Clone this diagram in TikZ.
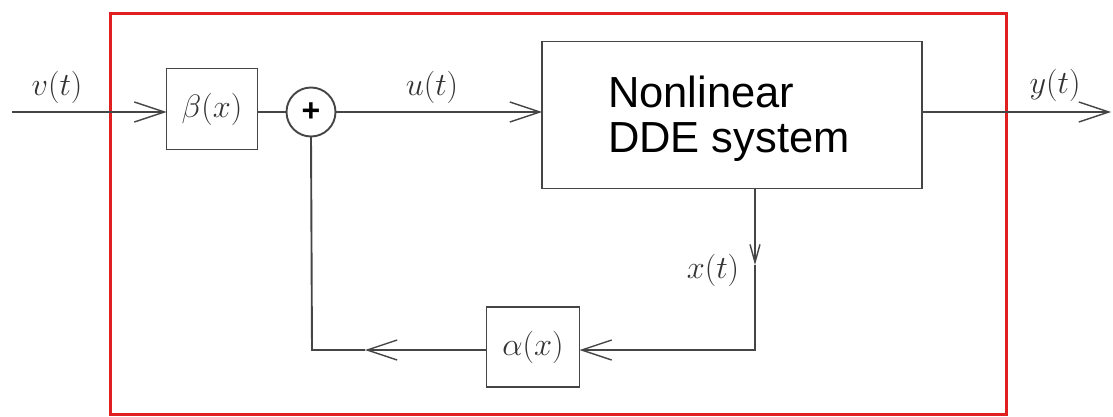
\documentclass[tikz,border=0pt]{standalone}
\usepackage{fontspec}
\newfontfamily\arialfont{Liberation Sans}
\usetikzlibrary{arrows.meta}
\definecolor{linegray}{HTML}{454545}
\definecolor{framered}{HTML}{E02020}
\begin{document}
\begin{tikzpicture}[x=1pt,y=-1pt,
  every node/.style={inner sep=0pt,outer sep=0pt},
  blockbox/.style={draw=linegray,line width=1.9pt,fill=white},
  conn/.style={draw=linegray,line width=1.9pt},
  bigarrow/.style={-{Straight Barb[length=30pt,width=20pt,line width=1.4pt]}},
  smallarrow/.style={-{Straight Barb[length=18pt,width=10pt,line width=1.4pt]}},
  mlabel/.style={font=\Huge, text=black!80, scale=1.3, transform shape}]
\useasboundingbox (0,0) rectangle (1113,417);
% frame
\draw[framered,line width=3pt] (110,14) rectangle (1006,414);
% blocks
\node[blockbox,minimum width=91pt,minimum height=81pt] (beta) at (212,109) {};
\node[mlabel] at (beta) {$\beta(x)$};
\node[blockbox,circle,minimum size=49pt] (sum) at (311,112) {};
\node[font=\arialfont\bfseries\fontsize{32}{32}\selectfont] at (sum) {+};
\node[blockbox,minimum width=380pt,minimum height=147pt] (dde) at (732,115) {};
\node[font=\arialfont\fontsize{43.5}{45}\selectfont,align=left,anchor=north west] (ddetext) at (608,76) {Nonlinear\\DDE system};
\node[blockbox,minimum width=93pt,minimum height=80pt] (alpha) at (533,347) {};
\node[mlabel] at (alpha) {$\alpha(x)$};
% coordinates
\coordinate (vin) at (12,112);
\coordinate (yout) at (1111,112);
\coordinate (xdown) at (755,188);
\coordinate (xarr) at (755,265);
\coordinate (corner1) at (755,350);
\coordinate (corner2) at (312,350);
\coordinate (midarr) at (365,350);
% connectors
\draw[conn,bigarrow] (vin) -- (beta.west |- vin);
\draw[conn] (beta.east |- sum) -- (sum.west);
\draw[conn,bigarrow] (sum.east) -- (dde.west |- sum);
\draw[conn,bigarrow] (dde.east |- yout) -- (yout);
\draw[conn,smallarrow] (xdown) -- (xarr);
\draw[conn,bigarrow] (xarr) -- (corner1) -- (alpha.east |- corner1);
\draw[conn,bigarrow] (alpha.west |- corner1) -- (midarr);
\draw[conn] (midarr) -- (corner2) -- (sum.south);
% labels
\node[mlabel] (vl) at (57,87) {$v(t)$};
\node[mlabel] (ul) at (432,87) {$u(t)$};
\node[mlabel] (yl) at (1055,85) {$y(t)$};
\node[mlabel] (xl) at (713,270) {$x(t)$};
\end{tikzpicture}
\end{document}
